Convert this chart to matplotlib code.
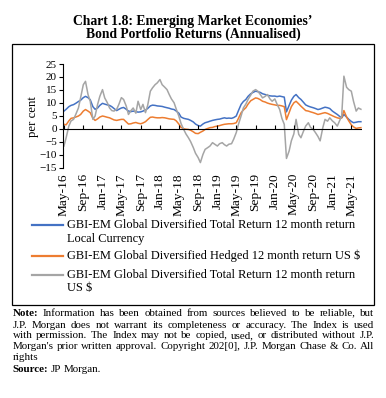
import numpy as np
import pandas as pd
import matplotlib
matplotlib.use("Agg")
import matplotlib.pyplot as plt
import matplotlib.dates as mdates
from matplotlib.lines import Line2D
from matplotlib.patches import Rectangle

plt.rcParams['font.family'] = ['Liberation Serif', 'DejaVu Serif']

# semi-monthly readings, May 2016 to Jul 2021 (per cent)
local_ccy = [6.8, 7.5, 8.5, 9.0, 9.3, 9.8, 10.5, 11.0, 12.0, 12.5,
             12.0, 11.2, 8.5, 7.5, 8.0, 9.0, 9.8, 9.5, 9.2, 9.0,
             8.5, 7.8, 7.0, 7.5, 8.0, 8.2, 7.5, 6.8, 6.6, 6.8,
             6.6, 6.4, 6.5, 6.8, 7.2, 7.8, 8.8, 9.1, 9.0, 8.8,
             8.7, 8.6, 8.3, 8.1, 7.9, 7.6, 7.4, 6.8, 6.0, 4.5,
             4.0, 3.8, 3.6, 3.2, 2.6, 1.8, 1.2, 1.0, 1.8, 2.3,
             2.6, 2.9, 3.2, 3.4, 3.6, 3.7, 4.0, 4.2, 4.0, 4.1,
             4.0, 4.3, 4.9, 7.0, 9.4, 10.5, 11.3, 12.5, 13.5, 14.0,
             14.5, 14.3, 14.0, 13.5, 13.2, 12.9, 12.7, 12.6, 12.6, 12.4,
             12.6, 12.4, 12.2, 6.5, 9.0, 11.0, 12.5, 13.2, 12.0, 11.3,
             10.2, 9.2, 8.7, 8.4, 8.1, 7.8, 7.4, 7.6, 8.0, 8.3,
             8.1, 7.8, 6.8, 6.2, 5.5, 4.8, 4.2, 5.5, 4.5, 3.6,
             2.8, 2.3, 2.5, 2.7, 2.7]

hedged = [1.7, 1.5, 3.0, 4.0, 4.2, 4.5, 4.9, 5.5, 6.8, 7.4,
          6.8, 6.2, 4.0, 3.2, 3.8, 4.5, 4.9, 4.7, 4.4, 4.2,
          3.8, 3.4, 3.2, 3.4, 3.6, 3.6, 2.6, 1.8, 1.9, 2.2,
          2.4, 2.1, 1.9, 2.2, 2.7, 3.5, 4.4, 4.5, 4.3, 4.2,
          4.2, 4.3, 4.2, 4.0, 3.8, 3.7, 3.6, 3.0, 1.8, 0.5,
          0.0, -0.2, -0.3, -0.6, -1.2, -1.8, -1.9, -1.4, -0.9, -0.3,
          0.1, 0.4, 0.5, 0.8, 1.0, 1.2, 1.5, 1.7, 1.8, 1.9,
          1.9, 2.0, 2.3, 4.0, 6.2, 7.2, 8.1, 9.5, 10.8, 11.3,
          11.9, 11.7, 11.2, 10.6, 10.3, 9.9, 9.6, 9.4, 9.2, 9.0,
          9.0, 8.8, 8.5, 3.5, 6.2, 8.5, 10.0, 10.6, 9.6, 8.7,
          7.8, 7.0, 6.8, 6.5, 6.2, 5.9, 5.5, 5.7, 6.0, 6.2,
          5.9, 5.5, 5.0, 4.6, 4.2, 4.0, 4.2, 7.0, 4.5, 3.0,
          1.5, 0.7, 0.1, 0.3, 0.4]

unhedged = [-6.7, -3.5, 1.0, 3.0, 3.6, 5.5, 8.0, 12.0, 17.0, 18.3,
            13.2, 10.6, 3.6, 4.9, 9.4, 12.5, 15.1, 11.9, 10.0, 8.0,
            7.0, 6.8, 7.5, 9.4, 12.0, 11.3, 8.7, 5.5, 7.0, 8.0,
            6.0, 10.6, 7.4, 9.4, 6.2, 9.0, 14.5, 15.8, 17.0, 17.7,
            19.0, 17.0, 16.0, 15.1, 13.2, 11.5, 10.0, 7.5, 4.9, 2.0,
            -0.3, -2.0, -3.5, -5.0, -7.3, -9.5, -11.2, -13.1, -10.0, -8.0,
            -7.3, -6.7, -5.4, -6.0, -6.7, -5.8, -5.4, -6.2, -6.7, -6.0,
            -5.8, -4.0, -1.5, 1.7, 5.0, 8.0, 9.5, 11.3, 13.0, 14.5,
            15.1, 14.5, 13.2, 11.9, 12.5, 13.2, 11.5, 10.6, 11.5, 9.5,
            7.4, 4.0, 1.7, -11.5, -8.6, -4.7, -2.0, 3.6, -2.2, -3.5,
            -1.0, 1.0, 2.3, 0.5, -0.3, -1.5, -3.0, -4.7, 0.4, 3.6,
            2.9, 4.2, 3.0, 2.3, 1.0, 3.0, 4.9, 20.3, 16.0, 15.1,
            14.5, 10.6, 6.8, 8.0, 7.5]

labels = ["GBI-EM Global Diversified Total Return 12 month return\nLocal Currency",
          "GBI-EM Global Diversified Hedged 12 month return US $",
          "GBI-EM Global Diversified Total Return 12 month return\nUS $"]
colors = ["#4472C4", "#ED7D31", "#A5A5A5"]

note_lines = ["Note: Information has been obtained from sources believed to be reliable, but",
              "J.P. Morgan does not warrant its completeness or accuracy. The Index is used",
              "with permission. The Index may not be copied, used, or distributed without J.P.",
              "Morgan's prior written approval. Copyright 202[0], J.P. Morgan Chase & Co. All",
              "rights",
              "Source: JP Morgan."]

W, H = 386, 398
fig = plt.figure(figsize=(W / 100, H / 100), dpi=100)


def fx(px):
    return px / W


def fy(py):
    return 1 - py / H


fig.text(0.5, fy(21), "Chart 1.8: Emerging Market Economies\u2019", ha='center', va='center',
         fontsize=9.8, fontweight='bold')
fig.text(0.5, fy(34.3), "Bond Portfolio Returns (Annualised)", ha='center', va='center',
         fontsize=9.8, fontweight='bold')

fig.patches.append(Rectangle((fx(12), fy(305)), fx(374) - fx(12), fy(44) - fy(305),
                             transform=fig.transFigure, fill=False, ec='black', lw=0.9))

ax = fig.add_axes([fx(63), fy(167.5), fx(362) - fx(63), fy(64) - fy(167.5)])
dates = pd.date_range("2016-05-01", periods=len(local_ccy), freq="SMS")

for series, c in zip([local_ccy, hedged, unhedged], colors):
    ax.plot(dates, series, color=c, lw=1.1)

ax.set_ylim(-15, 25)
ax.set_yticks(range(-15, 26, 5))
ax.set_xlim(pd.Timestamp("2016-04-25"), pd.Timestamp("2021-07-08"))
ax.xaxis.set_major_locator(mdates.MonthLocator(bymonth=[1, 5, 9]))
ax.xaxis.set_major_formatter(mdates.DateFormatter('%b-%y'))
ax.tick_params(axis='x', length=0, pad=4, labelsize=9.6, labelrotation=90)
ax.tick_params(axis='y', length=3, width=0.8, labelsize=8, pad=1.5)
for s in ['top', 'right', 'bottom']:
    ax.spines[s].set_visible(False)
ax.spines['left'].set_linewidth(0.8)
ax.axhline(0, color='black', lw=0.8)
ax.vlines(ax.get_xticks(), 0, 1.3, color='black', lw=0.8)

fig.text(fx(33), fy(117), "per cent", rotation=90, ha='center', va='center', fontsize=9.2)

# legend drawn by hand so the handle sits on the first text line
leg_y = [[225, 238.7], [255.5], [274.5, 288.5]]
for lab, c, ys in zip(labels, colors, leg_y):
    fig.add_artist(Line2D([fx(32), fx(63)], [fy(ys[0])] * 2, color=c, lw=1.6,
                          transform=fig.transFigure))
    for part, y in zip(lab.split("\n"), ys):
        fig.text(fx(67), fy(y), part, ha='left', va='center', fontsize=8.9)

# justified note text
renderer = fig.canvas.get_renderer()
note_y = [313, 325, 336, 346.7, 358, 370]
for i, (line, y) in enumerate(zip(note_lines, note_y)):
    words = line.split()
    items = []
    for w in words:
        bold = w in ("Note:", "Source:")
        items.append(fig.text(0, fy(y), w, ha='left', va='center', fontsize=7.9,
                              fontweight='bold' if bold else 'normal'))
    widths = [t.get_window_extent(renderer).width for t in items]
    if i < 4 and len(items) > 1:
        gap = (374 - 12 - sum(widths)) / (len(items) - 1)
    else:
        gap = 7.9 * 0.25 * 100 / 72
    x = 12.5
    for t, w in zip(items, widths):
        t.set_x(fx(x))
        x += w + gap

fig.savefig("out.png", dpi=100)
